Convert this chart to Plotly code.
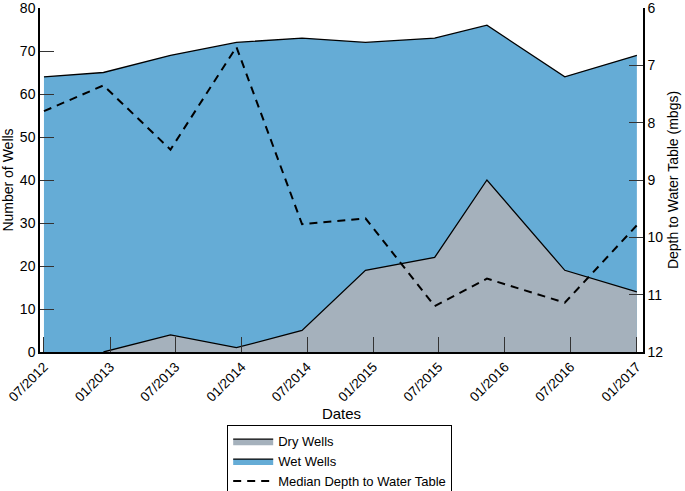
import plotly.graph_objects as go

dates = ["2012-07-01", "2012-12-13", "2013-06-17", "2013-12-17", "2014-06-17",
         "2014-12-10", "2015-06-20", "2015-11-12", "2016-06-15", "2017-01-01"]
dry_wells = [0, 0, 4, 1, 5, 19, 22, 40, 19, 14]
wet_wells = [64, 65, 65, 71, 68, 53, 51, 36, 45, 55]
median_depth = [7.80, 7.35, 8.47, 6.68, 9.77, 9.67, 11.2, 10.72, 11.14, 9.79]

tick_vals = ["2012-07-01", "2013-01-01", "2013-07-01", "2014-01-01", "2014-07-01",
             "2015-01-01", "2015-07-01", "2016-01-01", "2016-07-01", "2017-01-01"]
tick_text = ["07/2012", "01/2013", "07/2013", "01/2014", "07/2014",
             "01/2015", "07/2015", "01/2016", "07/2016", "01/2017"]
left_ticks = [0, 10, 20, 30, 40, 50, 60, 70, 80]
right_ticks = [6, 7, 8, 9, 10, 11, 12]

total_wells = [d + w for d, w in zip(dry_wells, wet_wells)]

FONT = "Liberation Sans, Arial, sans-serif"

fig = go.Figure()
fig.add_trace(go.Scatter(
    x=dates, y=total_wells, name="Wet Wells", mode="lines",
    fill="tozeroy", fillcolor="rgb(101,172,214)",
    line=dict(color="black", width=1.3), legendrank=2))
fig.add_trace(go.Scatter(
    x=dates[1:], y=dry_wells[1:], name="Dry Wells", mode="lines",
    fill="tozeroy", fillcolor="rgb(165,177,188)",
    line=dict(color="black", width=1.3), legendrank=1))
fig.add_trace(go.Scatter(
    x=dates, y=median_depth, name="Median Depth to Water Table", mode="lines",
    yaxis="y2", line=dict(color="black", width=2, dash="8px,6px"), legendrank=3))

fig.update_layout(
    width=685, height=491,
    margin=dict(l=40, r=42, t=8, b=139, autoexpand=False),
    paper_bgcolor="white", plot_bgcolor="white",
    font=dict(family=FONT, size=14, color="black"),
    showlegend=True,
    legend=dict(x=0.497, xanchor="center", y=-0.213, yanchor="top",
                bordercolor="black", borderwidth=1, bgcolor="white",
                font=dict(size=13, family=FONT), tracegroupgap=0,
                itemwidth=40),
    xaxis=dict(
        type="date", range=["2012-06-20", "2017-01-18"],
        tickvals=tick_vals, ticktext=tick_text, tickangle=-45,
        ticks="inside", ticklen=15, tickcolor="#333", tickwidth=1,
        showline=True, linecolor="black", linewidth=1.5,
        showgrid=False, zeroline=False, automargin=False,
        ticklabeloverflow="allow",
        tickfont=dict(size=13.5),
        title=dict(text="Dates", font=dict(size=15), standoff=4)),
    yaxis=dict(
        range=[0, 80], tickvals=left_ticks,
        ticks="inside", ticklen=14, tickcolor="#333", tickwidth=1,
        showline=True, linecolor="black", linewidth=1.5,
        showgrid=False, zeroline=False, automargin=False,
        ticklabeloverflow="allow",
        tickfont=dict(size=14),
        title=dict(text="Number of Wells", font=dict(size=14), standoff=4)),
    yaxis2=dict(
        overlaying="y", side="right", range=[12, 6],
        tickvals=right_ticks,
        ticks="inside", ticklen=14, tickcolor="#333", tickwidth=1,
        showline=True, linecolor="black", linewidth=1.5,
        showgrid=False, zeroline=False, automargin=False,
        ticklabeloverflow="allow",
        tickfont=dict(size=14),
        title=dict(text="Depth to Water Table (mbgs)", font=dict(size=14), standoff=6)),
)

fig.write_html("out.html", config={"displayModeBar": False},
               post_script="document.body.style.margin='0';document.body.style.overflow='hidden';")
